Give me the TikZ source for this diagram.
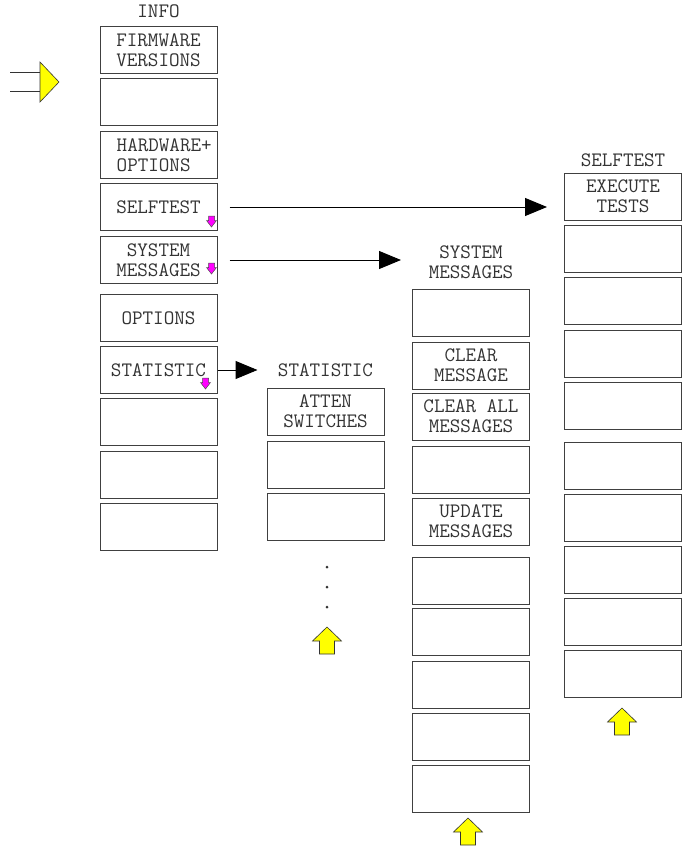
\documentclass[tikz,border=0pt]{standalone}
\usepackage{fontspec}
\usetikzlibrary{arrows.meta,positioning}
\definecolor{markpink}{RGB}{255,0,255}
\definecolor{markyellow}{RGB}{255,255,0}
\newcommand\keyfont{\ttfamily\fontsize{20.5}{20}\selectfont}
\tikzset{
  softkey/.style={draw=black!75,line width=1pt,minimum width=117pt,minimum height=47pt,
    inner sep=0pt,align=center,font=\keyfont,text=black!80},
  menutitle/.style={inner sep=0pt,align=center,font=\keyfont,text=black!80},
  menuarrow/.style={black,line width=1pt,-{Triangle[length=22pt,width=18pt]}},
  pics/subdown/.style={code={
    \draw[fill=markpink,draw=black!70,line width=.5pt] (-3,0)--(3,0)--(3,4.5)--(5,4.5)--(0,11)--(-5,4.5)--(-3,4.5)--cycle;}},
  pics/scrollup/.style={code={
    \draw[fill=markyellow,draw=black!80,line width=.6pt] (-7.5,27)--(-7.5,14)--(-14.5,14)--(0,0)--(14.5,14)--(7.5,14)--(7.5,27)--cycle;}}
}
\begin{document}
\begin{tikzpicture}[x=1pt,y=-1pt]
    \useasboundingbox (0,0) rectangle (683,847);
    % entry mark
    \draw[black!80,line width=1pt] (10,72) -- (40,72) (10,91) -- (40,91);
    \draw[fill=markyellow,draw=black!80,line width=.6pt] (40,62) -- (59,82) -- (40,102) -- cycle;
    % INFO menu
    \foreach[count=\k] \y/\txt in {27/{FIRMWARE\\VERSIONS},79/{},132/{},184/SELFTEST,
        237/{SYSTEM\\MESSAGES},295/OPTIONS,347/STATISTIC,399/{},452/{},504/{}}
      \node[softkey] (info\k) at (158.5,\y+23) {\txt};
    \node[menutitle,above=8pt of info1] (infotitle) {INFO};
    \node[menutitle,align=left,anchor=west] (hwlabel) at ([xshift=17pt]info3.west) {HARDWARE+\\OPTIONS};
    \pic at ([shift={(-6,9)}]info4.east) {subdown};
    \pic at ([shift={(-6,3)}]info5.east) {subdown};
    \pic at ([shift={(-12,8)}]info7.east) {subdown};
    % STATISTIC menu
    \foreach[count=\k] \y/\txt in {388/{ATTEN\\SWITCHES},441/{},493/{}}
      \node[softkey] (stat\k) at (325.5,\y+23.5) {\txt};
    \node[menutitle,above=11pt of stat1] (stattitle) {STATISTIC};
    \foreach \y in {567,587,607}
      \fill[black!80] (327,\y) circle (1.5);
    \pic at (327,627) {scrollup};
    % SYSTEM MESSAGES menu
    \foreach[count=\k] \y/\txt in {289/{},342/{CLEAR\\MESSAGE},393/{CLEAR ALL\\MESSAGES},446/{},
        498/{UPDATE\\MESSAGES},557/{},608/{},661/{},713/{},765/{}}
      \node[softkey] (sys\k) at (471,\y+23.5) {\txt};
    \node[menutitle,above=10pt of sys1] (systitle) {SYSTEM\\MESSAGES};
    \pic at (468,818) {scrollup};
    % SELFTEST menu
    \foreach[count=\k] \y/\txt in {173/{EXECUTE\\TESTS},225/{},277/{},330/{},382/{},
        442/{},494/{},546/{},598/{},650/{}}
      \node[softkey] (self\k) at (623,\y+23.5) {\txt};
    \node[menutitle,above=6pt of self1] (selftitle) {SELFTEST};
    \pic at (622,708) {scrollup};
    % submenu links
    \draw[menuarrow,shorten <=12pt,shorten >=17pt] (info4.east) -- (info4.east -| self1.west);
    \draw[menuarrow,shorten <=12pt,shorten >=11pt] (info5.east) -- (info5.east -| sys1.west);
    \draw[menuarrow,shorten >=9pt] (info7.east) -- (info7.east -| stat1.west);
  \end{tikzpicture}
\end{document}
